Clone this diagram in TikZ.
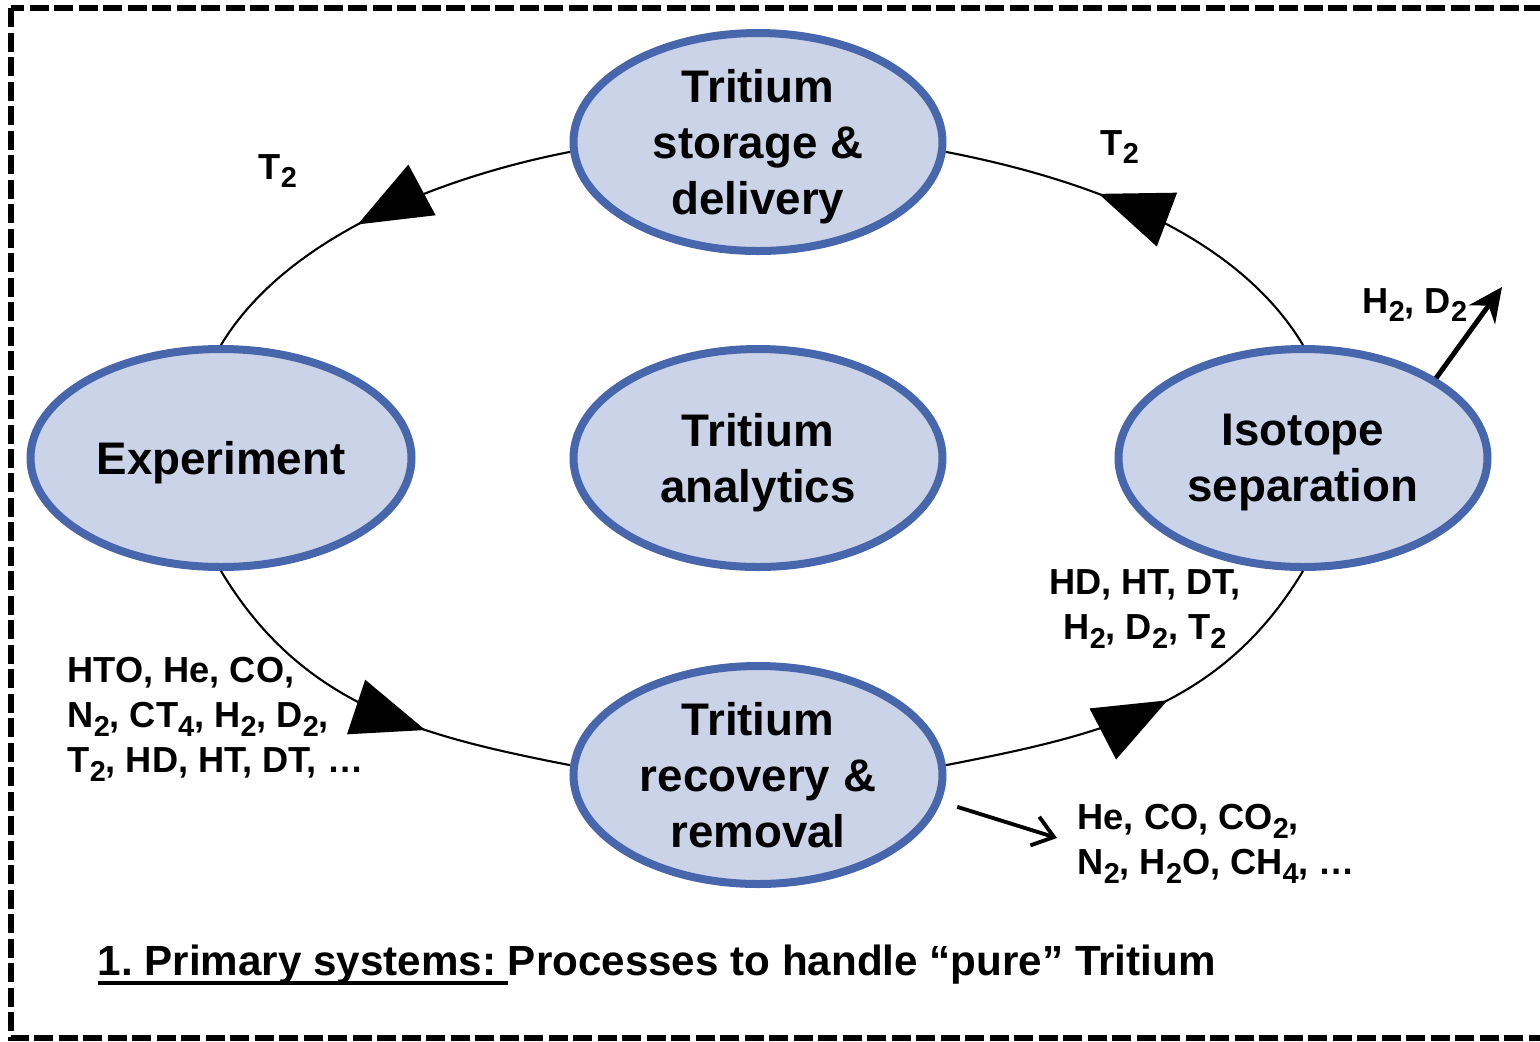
\documentclass[tikz,border=0pt]{standalone}
\usepackage{fontspec}
\setmainfont{Liberation Sans}
\usepackage{tikz}
\usetikzlibrary{arrows.meta,positioning,shapes.geometric,decorations.markings}
\definecolor{ellfill}{HTML}{CAD3E7}
\definecolor{elldraw}{HTML}{4866AC}
\newcommand{\lo}[1]{\raisebox{-0.085cm}{\fontsize{8.2}{9}\selectfont #1}}
\newcommand{\nodepth}[1]{\raisebox{0pt}[\height][0pt]{#1}}
\newlength{\ulwd}
\newcommand{\uln}[1]{\settowidth{\ulwd}{#1}\rlap{\rule[-2.95pt]{\ulwd}{1.15pt}}#1}
\frenchspacing

\begin{document}
\begin{tikzpicture}[
  proc/.style={ellipse,draw=elldraw,fill=ellfill,line width=0.08cm,minimum width=3.69cm,minimum height=2.18cm,inner sep=-2pt,align=center,font=\fontsize{13}{16}\selectfont\bfseries},
  flow/.style={line width=0.6pt,postaction={decorate},decoration={markings,mark=at position #1 with {\arrow{Triangle[length=0.73cm,width=0.57cm]}}}},
  gas/.style={inner sep=0pt,font=\fontsize{10.3}{12.8}\selectfont\bfseries},
  vent/.style={line width=1.4pt,-{Stealth[length=0.34cm,width=0.32cm]}},
  dump/.style={line width=1.1pt,-{Straight Barb[length=0.2cm,width=0.3cm]}},
  frame/.style={line width=0.055cm,dash pattern=on 0.19cm off 0.055cm}
]
\clip (0,0) rectangle (15.40,-10.41);
\draw[frame] (0.11,-0.08) rectangle (15.60,-10.38);
% process ellipses
\node[proc] (ana) at (7.58,-4.58) {Tritium\\\nodepth{analytics}};
\node[proc,above=0.9cm of ana] (store) {Tritium\\storage \&\\\nodepth{delivery}};
\node[proc,below=0.91cm of ana] (recov) {Tritium\\recovery \&\\removal};
\node[proc,left=1.54cm of ana,minimum width=3.81cm] (exp) {\nodepth{Experiment}};
\node[proc,right=1.68cm of ana] (iso) {Isotope\\\nodepth{separation}};
% main loop
\draw[flow=0.55] (store.183) to[out=191,in=59,looseness=0.82] (exp.north);
\draw[flow=0.64] (exp.south) to[out=-59,in=169] (recov.177);
\draw[flow=0.55] (recov.3) to[out=11,in=239] (iso.south);
\draw[flow=0.62] (iso.north) to[out=121,in=-11,looseness=0.85] (store.357);
% gas labels
\node[gas,anchor=base west] (t2l) at (2.58,-1.79) {T\lo{2}};
\node[gas,anchor=base west] (t2r) at (11.00,-1.55) {T\lo{2}};
\node[gas,anchor=base west] (hd) at (13.62,-3.13) {H\lo{2}, D\lo{2}};
\node[gas,anchor=north west,align=left] (mixl) at (0.67,-6.57) {HTO, He, CO,\\N\lo{2}, CT\lo{4}, H\lo{2}, D\lo{2},\\T\lo{2}, HD, HT, DT, …};
\node[gas,anchor=north,align=center] (mixr) at (11.45,-5.69) {HD, HT, DT,\\H\lo{2}, D\lo{2}, T\lo{2}};
\node[gas,anchor=north west,align=left] (waste) at (10.77,-8.04) {He, CO, CO\lo{2},\\N\lo{2}, H\lo{2}O, CH\lo{4}, …};
% outlets
\coordinate (hdtip) at (15.02,-2.87);
\draw[vent] (iso.31) -- (hdtip);
\coordinate (wastetip) at (10.57,-8.38);
\draw[dump] ([shift={(0.17,-0.03)}]recov.-9) -- (wastetip);
\node[anchor=base west,inner sep=0pt,font=\fontsize{12}{14}\selectfont\bfseries] (title) at (0.97,-9.75) {\uln{1. Primary systems:\ }Processes to handle “pure” Tritium};
\end{tikzpicture}
\end{document}
